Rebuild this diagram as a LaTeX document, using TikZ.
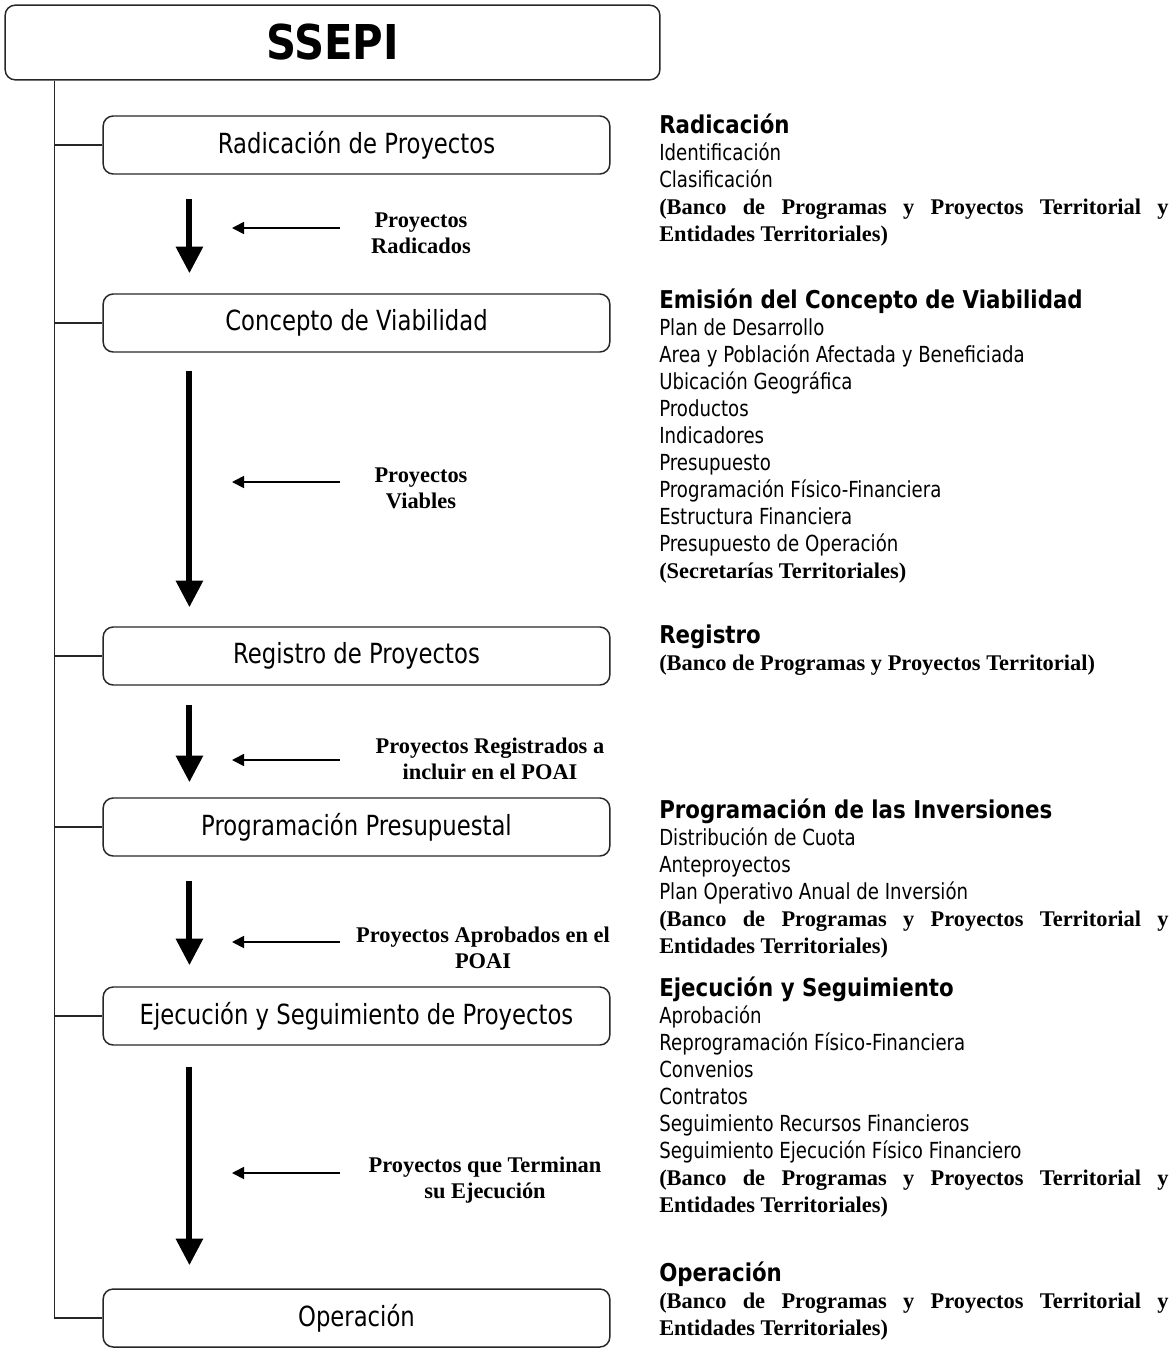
\documentclass[tikz,border=0pt]{standalone}
\usepackage{fontspec}
\setmainfont{Liberation Serif}
\newfontfamily\tahoma[FakeStretch=0.82]{DejaVu Sans}
\newfontfamily\headfont[FakeStretch=0.87]{DejaVu Sans}
\usetikzlibrary{arrows.meta,calc}

\hyphenpenalty=10000
\exhyphenpenalty=10000
\tolerance=10000

\newcommand{\bank}[1]{{\rmfamily\bfseries\fontsize{16.8}{20.25}\selectfont #1}}
\newcommand{\headline}[1]{{\headfont\bfseries\fontsize{18.4}{20.25}\selectfont #1}}

\tikzset{
  stage/.style={draw=black!85, line width=1.1pt, rounded corners=7.5pt,
    minimum width=380pt, minimum height=43.5pt, inner sep=0pt,
    font=\tahoma\fontsize{20.8}{24}\selectfont},
  top/.style={stage, minimum width=491pt, minimum height=56pt,
    font=\headfont\bfseries\fontsize{36}{40}\selectfont},
  link/.style={draw=black!85, line width=0.9pt},
  flow/.style={line width=4.5pt, -{Triangle[length=20pt,width=19.5pt]}},
  feed/.style={line width=1.3pt, -{Triangle[length=9pt,width=9pt]}},
  note/.style={align=center, inner sep=0pt,
    font=\rmfamily\bfseries\fontsize{16.8}{19.5}\selectfont},
  info/.style={anchor=base west, inner sep=0pt, text width=382pt, align=justify,
    font=\tahoma\fontsize{16.6}{20.25}\selectfont}
}

\begin{document}
\begin{tikzpicture}[x=0.75pt,y=0.75pt,yscale=-1,xscale=1]
\useasboundingbox (0,0) rectangle (1173,1368);

% Boxes
\node [top] (ssepi) at (332.5,42.5) {SSEPI};
\node [stage] (rad) at (356.5,145) {Radicación de Proyectos};
\node [stage] (con) at (356.5,323) {Concepto de Viabilidad};
\node [stage] (reg) at (356.5,656) {Registro de Proyectos};
\node [stage] (prog) at (356.5,827) {Programación Presupuestal};
\node [stage] (eje) at (356.5,1016) {Ejecución y Seguimiento de Proyectos};
\node [stage] (oper) at (356.5,1318) {Operación};

% Trunk and branches
\coordinate (trunk) at ($(ssepi.south west)+(50,0)$);
\draw [link] (trunk) |- (oper.west);
\draw [link] (rad.west) -- (rad.west -| trunk);
\draw [link] (con.west) -- (con.west -| trunk);
\draw [link] (reg.west) -- (reg.west -| trunk);
\draw [link] (prog.west) -- (prog.west -| trunk);
\draw [link] (eje.west) -- (eje.west -| trunk);

% Flow arrows
\draw [flow] ($(rad.south west)+(87,24)$) -- ($(con.north west)+(87,-20)$);
\draw [flow] ($(con.south west)+(87,18)$) -- ($(reg.north west)+(87,-19)$);
\draw [flow] ($(reg.south west)+(87,19)$) -- ($(prog.north west)+(87,-15)$);
\draw [flow] ($(prog.south west)+(87,24)$) -- ($(eje.north west)+(87,-21)$);
\draw [flow] ($(eje.south west)+(87,21)$) -- ($(oper.north west)+(87,-23)$);

% Products between stages
\node [note] (lab1) at (421,233) {Proyectos\\Radicados};
\node [note] (lab2) at (421,488) {Proyectos\\Viables};
\node [note] (lab3) at (490,759) {Proyectos Registrados a\\incluir en el POAI};
\node [note] (lab4) at (483,948) {Proyectos Aprobados en el\\POAI};
\node [note] (lab5) at (485,1180) {Proyectos que Terminan\\su Ejecución};

\coordinate (f1) at (340,228);  \coordinate (g1) at (232,228);
\coordinate (f2) at (340,482);  \coordinate (g2) at (232,482);
\coordinate (f3) at (340,760);  \coordinate (g3) at (232,760);
\coordinate (f4) at (340,942);  \coordinate (g4) at (232,942);
\coordinate (f5) at (340,1173); \coordinate (g5) at (232,1173);
\draw [feed] (f1) -- (g1);
\draw [feed] (f2) -- (g2);
\draw [feed] (f3) -- (g3);
\draw [feed] (f4) -- (g4);
\draw [feed] (f5) -- (g5);

% Text Node
\node [info] (t1) at (659,133) {\headline{Radicación}\\
Identificación\\
Clasificación\\
\bank{(Banco de Programas y Proyectos Territorial y Entidades Territoriales)}};
% Text Node
\node [info] (t2) at (659,308) {\headline{Emisión del Concepto de Viabilidad}\\
Plan de Desarrollo\\
Area y Población Afectada y Beneficiada\\
Ubicación Geográfica\\
Productos\\
Indicadores\\
Presupuesto\\
Programación Físico-Financiera\\
Estructura Financiera\\
Presupuesto de Operación\\
\bank{(Secretarías Territoriales)}};
% Text Node
\node [info] (t3) at (659,643) {\headline{Registro}\\
\bank{(Banco de Programas y Proyectos Territorial)}};
% Text Node
\node [info] (t4) at (659,818) {\headline{Programación de las Inversiones}\\
Distribución de Cuota\\
Anteproyectos\\
Plan Operativo Anual de Inversión\\
\bank{(Banco de Programas y Proyectos Territorial y Entidades Territoriales)}};
% Text Node
\node [info] (t5) at (659,996) {\headline{Ejecución y Seguimiento}\\
Aprobación\\
Reprogramación Físico-Financiera\\
Convenios\\
Contratos\\
Seguimiento Recursos Financieros\\
Seguimiento Ejecución Físico Financiero\\
\bank{(Banco de Programas y Proyectos Territorial y Entidades Territoriales)}};
% Text Node
\node [info] (t6) at (659,1281) {\headline{Operación}\\
\bank{(Banco de Programas y Proyectos Territorial y Entidades Territoriales)}};

\end{tikzpicture}
\end{document}
